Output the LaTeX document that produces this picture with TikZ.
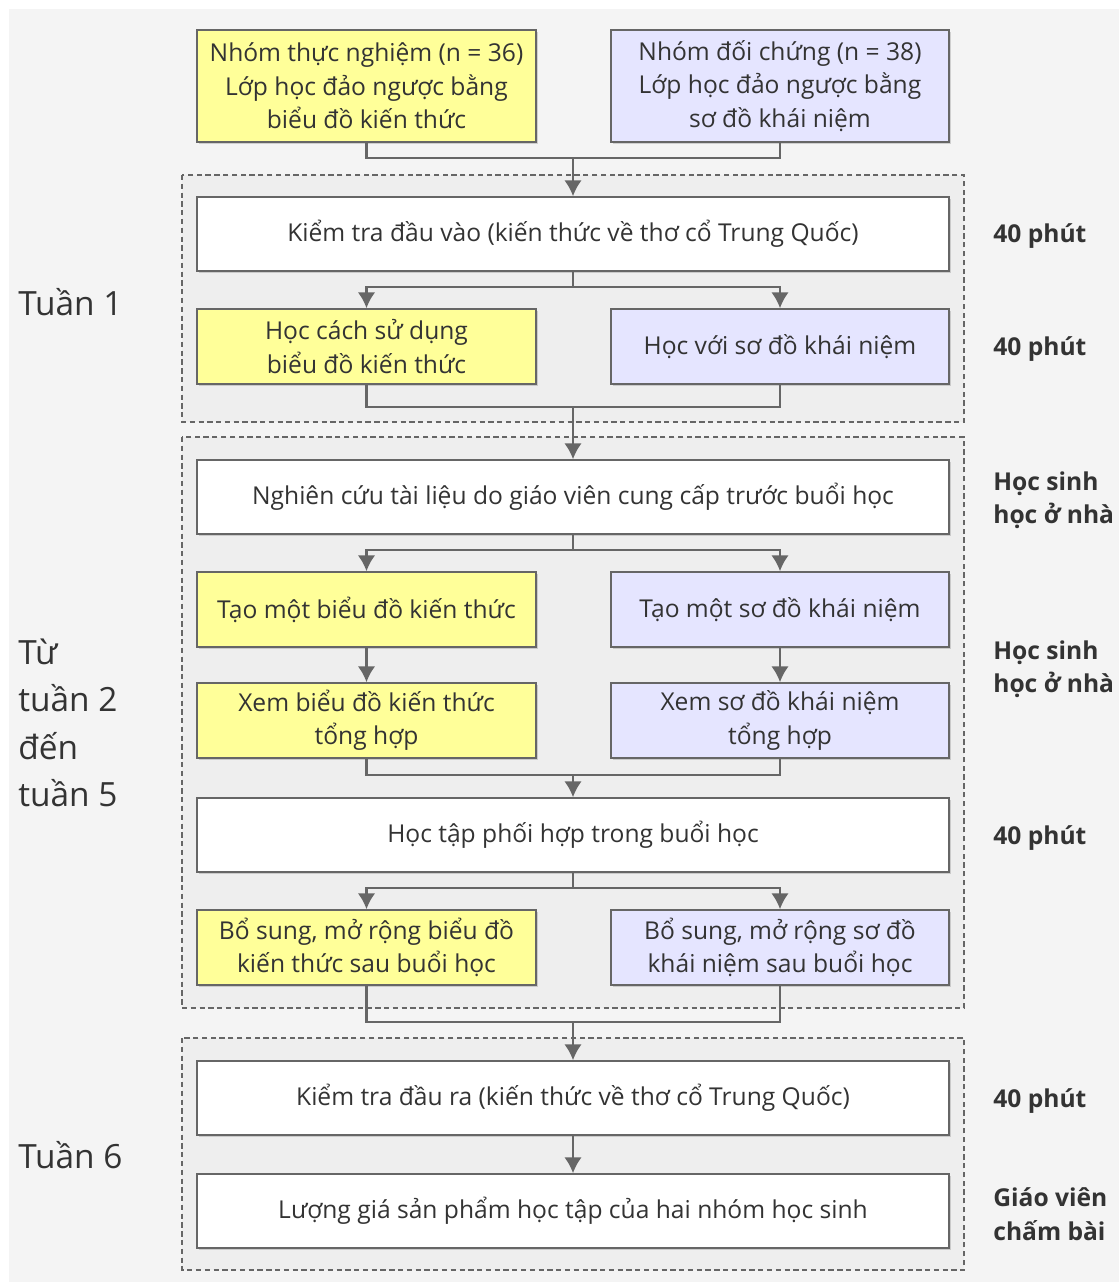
\documentclass[tikz,border=0pt]{standalone}
\usepackage{fontspec}
\setmainfont{Open Sans}
\usetikzlibrary{shadows, arrows.meta}
\definecolor{boxyellow}{HTML}{FFFF99}
\definecolor{boxviolet}{HTML}{E5E5FF}
\definecolor{linegray}{HTML}{666666}
\definecolor{textgray}{HTML}{333333}
\definecolor{panelgray}{HTML}{F4F4F4}
\definecolor{groupgray}{HTML}{EEEEEE}
\tikzset{
  stepnode/.style = {shape=rectangle, %rounded corners,
                     draw=linegray, line width=0.9pt, align=center,
                     text=textgray, font=\fontsize{14}{19}\selectfont,
                     drop shadow={shadow xshift=1.2pt, shadow yshift=-1.2pt, opacity=0.15, fill=black}},
  wide/.style     = {stepnode, fill=white, minimum width=15.04cm, minimum height=1.48cm},
  expnode/.style  = {stepnode, fill=boxyellow, minimum width=6.78cm, minimum height=1.5cm},
  ctrlnode/.style = {stepnode, fill=boxviolet, minimum width=6.76cm, minimum height=1.5cm},
  week/.style     = {anchor=west, align=left, inner sep=0pt, text=textgray,
                     font=\fontsize{19}{27}\selectfont},
  note/.style     = {anchor=west, align=left, inner sep=0pt, text=textgray,
                     font=\bfseries\fontsize{14}{19}\selectfont},
  group/.style    = {draw=linegray, line width=0.8pt, dash pattern=on 3pt off 2pt, fill=groupgray},
  conn/.style     = {draw=linegray, line width=1.5pt},
  arr/.style      = {conn, -{Latex[length=9pt, width=10pt]}}
}

\begin{document}
\begin{tikzpicture}[x=0.02cm, y=-0.02cm]
  \useasboundingbox (0,0) rectangle (1119,1282);
  \fill[panelgray] (9,9) rectangle (1119,1282);

  % dashed panels of the weeks
  \draw[group] (182,175) rectangle (964,422);
  \draw[group] (182,437) rectangle (964,1008);
  \draw[group] (182,1038) rectangle (964,1270);

  % the two groups
  \node[expnode, minimum height=2.24cm] (grpexp) at (366.5,86)
    {Nhóm thực nghiệm (n = 36)\\ Lớp học đảo ngược bằng\\ biểu đồ kiến thức};
  \node[ctrlnode, minimum height=2.24cm] (grpctrl) at (780,86)
    {Nhóm đối chứng (n = 38)\\ Lớp học đảo ngược bằng\\ sơ đồ khái niệm};

  % week 1
  \node[wide] (pretest) at (573,234) {Kiểm tra đầu vào (kiến thức về thơ cổ Trung Quốc)};
  \node[expnode] (learnexp) at (366.5,346.5) {Học cách sử dụng\\ biểu đồ kiến thức};
  \node[ctrlnode] (learnctrl) at (780,346.5) {Học với sơ đồ khái niệm};

  % weeks 2 to 5
  \node[wide] (study) at (573,497) {Nghiên cứu tài liệu do giáo viên cung cấp trước buổi học};
  \node[expnode] (makeexp) at (366.5,609.5) {Tạo một biểu đồ kiến thức};
  \node[ctrlnode] (makectrl) at (780,609.5) {Tạo một sơ đồ khái niệm};
  \node[expnode] (viewexp) at (366.5,720.5) {Xem biểu đồ kiến thức\\ tổng hợp};
  \node[ctrlnode] (viewctrl) at (780,720.5) {Xem sơ đồ khái niệm\\ tổng hợp};
  \node[wide] (collab) at (573,835) {Học tập phối hợp trong buổi học};
  \node[expnode] (extexp) at (366.5,947.5) {Bổ sung, mở rộng biểu đồ\\ kiến thức sau buổi học};
  \node[ctrlnode] (extctrl) at (780,947.5) {Bổ sung, mở rộng sơ đồ\\ khái niệm sau buổi học};

  % week 6
  \node[wide] (posttest) at (573,1098) {Kiểm tra đầu ra (kiến thức về thơ cổ Trung Quốc)};
  \node[wide] (assess) at (573,1211) {Lượng giá sản phẩm học tập của hai nhóm học sinh};

  % week labels
  \node[week] (w1) at (18,302) {Tuần 1};
  \node[week] (w25) at (18,723) {Từ\\ tuần 2\\ đến\\ tuần 5};
  \node[week] (w6) at (18,1155) {Tuần 6};

  % notes on the right
  \node[note] (t1) at (993,236) {40 phút};
  \node[note] (t2) at (993,349) {40 phút};
  \node[note] (h1) at (993,500) {Học sinh\\ học ở nhà};
  \node[note] (h2) at (993,669) {Học sinh\\ học ở nhà};
  \node[note] (t3) at (993,838) {40 phút};
  \node[note] (t4) at (993,1101) {40 phút};
  \node[note] (gv) at (993,1214) {Giáo viên\\ chấm bài};

  % connectors
  \coordinate (join0) at (573,158);
  \coordinate (fork1) at (573,287);
  \coordinate (join1) at (573,407);
  \coordinate (fork2) at (573,550);
  \coordinate (join2) at (573,775);
  \coordinate (fork3) at (573,888);
  \coordinate (join3) at (573,1022);

  \draw[conn] (grpexp) |- (join0) -| (grpctrl);
  \draw[arr] (join0) -- (pretest);
  \draw[conn] (pretest) -- (fork1);
  \draw[arr] (fork1) -| (learnexp);
  \draw[arr] (fork1) -| (learnctrl);
  \draw[conn] (learnexp) |- (join1) -| (learnctrl);
  \draw[arr] (join1) -- (study);
  \draw[conn] (study) -- (fork2);
  \draw[arr] (fork2) -| (makeexp);
  \draw[arr] (fork2) -| (makectrl);
  \draw[arr] (makeexp) -- (viewexp);
  \draw[arr] (makectrl) -- (viewctrl);
  \draw[conn] (viewexp) |- (join2) -| (viewctrl);
  \draw[arr] (join2) -- (collab);
  \draw[conn] (collab) -- (fork3);
  \draw[arr] (fork3) -| (extexp);
  \draw[arr] (fork3) -| (extctrl);
  \draw[conn] (extexp) |- (join3) -| (extctrl);
  \draw[arr] (join3) -- (posttest);
  \draw[arr] (posttest) -- (assess);
\end{tikzpicture}
\end{document}
